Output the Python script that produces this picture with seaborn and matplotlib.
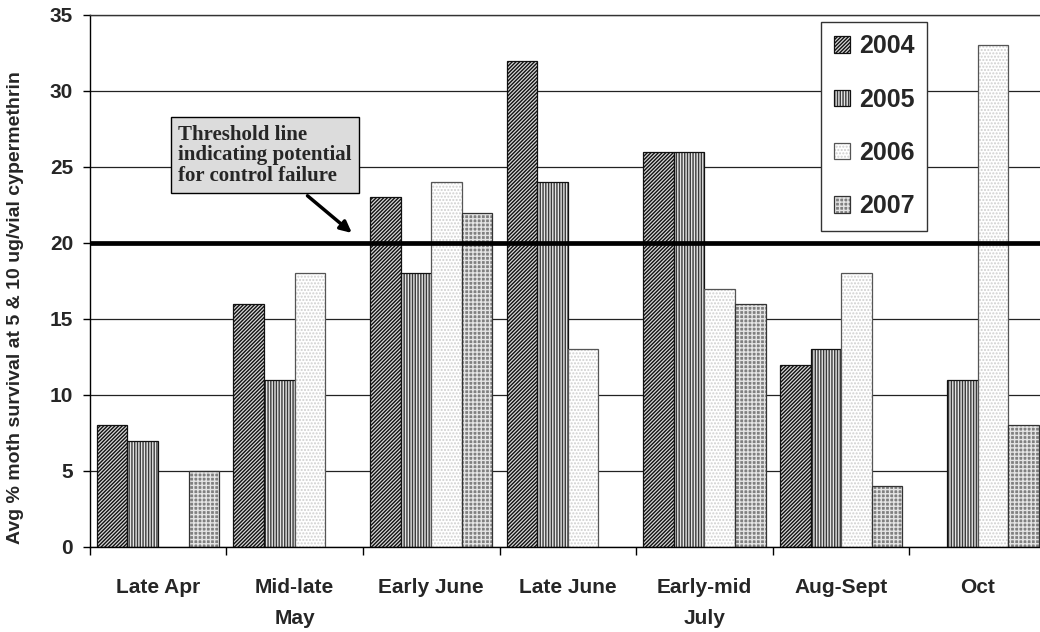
import numpy as np
import pandas as pd
import matplotlib
matplotlib.use("Agg")
import matplotlib.pyplot as plt
import seaborn as sns
from matplotlib.colors import to_rgba

# ---- data ----
periods = ["Late Apr", "Mid-late\nMay", "Early June", "Late June",
           "Early-mid\nJuly", "Aug-Sept", "Oct"]
years = ["2004", "2005", "2006", "2007"]
v2004 = [8, 16, 23, 32, 26, 12, np.nan]
v2005 = [7, 11, 18, 24, 26, 13, 11]
v2006 = [np.nan, 18, 24, 13, 17, 18, 33]
v2007 = [5, np.nan, 22, np.nan, 16, 4, 8]
threshold = 20
yticks = [0, 5, 10, 15, 20, 25, 30, 35]
ylabel = "Avg % moth survival at 5 & 10 ug/vial cypermethrin"
note = "Threshold line\nindicating potential\nfor control failure"

df = pd.DataFrame({
    "period": periods * 4,
    "year": np.repeat(years, len(periods)),
    "value": v2004 + v2005 + v2006 + v2007,
}).dropna()

sns.set_style("white")
plt.rcParams["font.family"] = ["Liberation Sans", "DejaVu Sans"]
plt.rcParams["hatch.linewidth"] = 1.0

fig = plt.figure(figsize=(10.4, 6.32), dpi=100)
ax = fig.add_axes([89.7 / 1040, 85 / 632, 956.3 / 1040, 532 / 632])

sns.barplot(data=df, x="period", y="value", hue="year", order=periods,
            hue_order=years, width=0.895, gap=0, saturation=1,
            palette=["#999999"] * 4, legend=False, errorbar=None, ax=ax,
            zorder=2)

styles = {
    "2004": dict(face="#d8d8d8", hatch="/" * 9, hc="#111111", ec="#111111"),
    "2005": dict(face="#e4e4e4", hatch="|" * 6, hc="#3a3a3a", ec="#111111"),
    "2006": dict(face="white", hatch="." * 5, hc="#cfcfcf", ec="#555555"),
    "2007": dict(face="#808080", hatch="+" * 4, hc="#e4e4e4", ec="#333333"),
}
for cont, yr in zip(ax.containers, years):
    s = styles[yr]
    for p in cont:
        p.set_facecolor(s["face"])
        p.set_edgecolor(s["ec"])
        p.set_linewidth(0.9)
        p.set_hatch(s["hatch"])
        if hasattr(p, "set_hatchcolor"):
            p.set_hatchcolor(s["hc"])
        else:
            p._hatch_color = to_rgba(s["hc"])

# threshold line
ax.axhline(threshold, color="black", lw=3.4, zorder=4)

# annotation
ax.annotate(note, xy=(1.419, 20.66), xytext=(0.782, 25.76),
            xycoords="data", textcoords="data",
            ha="center", va="center", multialignment="left",
            family="Liberation Serif", weight="bold", fontsize=15,
            linespacing=1.05,
            bbox=dict(boxstyle="square,pad=0.35", fc="#dcdcdc", ec="black", lw=1),
            arrowprops=dict(arrowstyle="-|>,head_length=0.45,head_width=0.22",
                            color="black", lw=2.5, relpos=(0.68, 0),
                            shrinkA=2, shrinkB=0),
            zorder=6)

# axes
ax.set_ylim(0, 35)
ax.set_xlim(-0.5, 6.5)
ax.set_yticks(yticks)
ax.tick_params(axis="y", direction="out", length=5, width=1, pad=7,
               labelsize=15, color="black", left=True)
for lbl in ax.get_yticklabels():
    lbl.set_fontweight("bold")

ax.set_xticks(range(len(periods)))
ax.set_xticklabels(periods, fontsize=15, fontweight="bold", linespacing=1.8)
ax.tick_params(axis="x", which="major", length=0, pad=22)
ax.set_xticks(np.arange(-0.5, len(periods), 1), minor=True)
ax.tick_params(axis="x", which="minor", length=6, width=1, direction="out",
               bottom=True, color="black")
ax.set_xlabel("")

ax.yaxis.grid(True, color="#222222", lw=0.9)
ax.set_axisbelow(True)
for side in ["left", "bottom"]:
    ax.spines[side].set_color("black")
    ax.spines[side].set_linewidth(1)
ax.spines["top"].set_color("#333333")
ax.spines["top"].set_linewidth(1)
ax.spines["right"].set_visible(False)

ax.set_ylabel(ylabel, fontweight="bold", fontsize=14)
ax.yaxis.set_label_coords(-0.0687, 0.451)

leg = ax.legend(ax.containers, years, loc="upper left",
                bbox_to_anchor=(0.765, 0.987),
                prop=dict(family="Liberation Sans", weight="bold", size=18),
                frameon=True, fancybox=False, edgecolor="#333333",
                framealpha=1, handlelength=0.65, handleheight=0.65,
                handletextpad=0.35, labelspacing=1.17, borderpad=0.5,
                borderaxespad=0)
leg.get_frame().set_linewidth(1.0)
leg.set_zorder(7)

fig.savefig("out.png", dpi=100)
